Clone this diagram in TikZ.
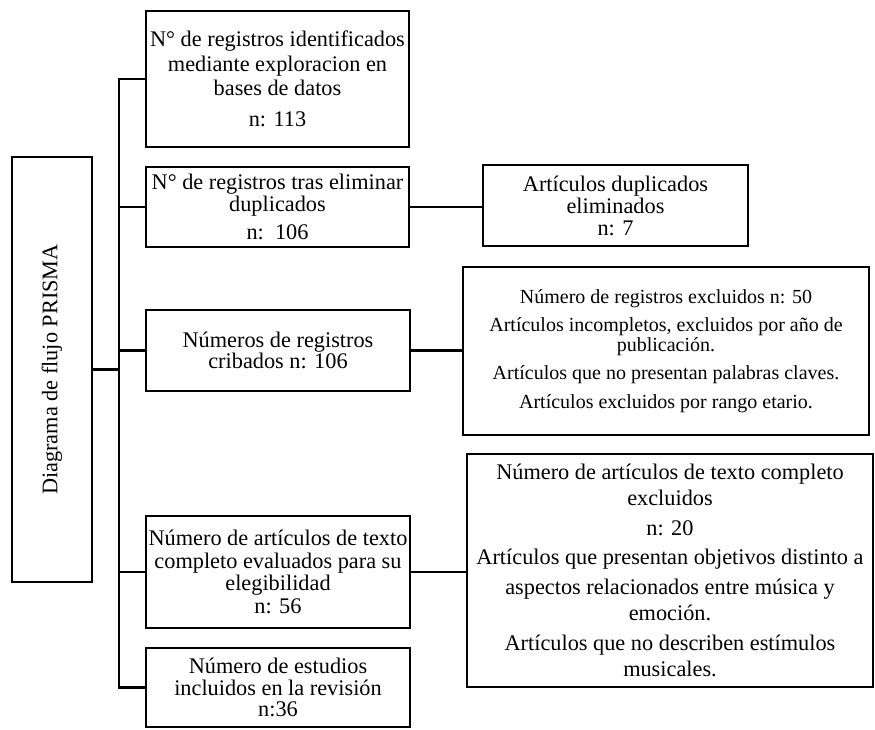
\documentclass[tikz,border=0pt]{standalone}
\usepackage{fontspec}
\usepackage{graphicx}
\setmainfont{Liberation Serif}
\newcommand\fsz[2]{\fontsize{#1}{#2}\selectfont\lineskiplimit=-20pt\lineskip=0pt}
\begin{document}
\begin{tikzpicture}[x=1pt,y=-1pt,
  box/.style={draw, line width=2.6pt, inner sep=0pt, align=center, font=\fsz{22.3}{22.5}},
  link/.style={line width=2.6pt, line join=miter}]
\fill[white] (0,0) rectangle (875,729);
\useasboundingbox (0,0) rectangle (875,729);

\node[box, minimum width=80, minimum height=425] (L) at (52,369.5)
  {\rotatebox{90}{Diagrama de flujo PRISMA}};

\node[box, minimum width=263, minimum height=136, font=\fsz{22.3}{24.5}] (B1) at (277.5,79)
  {N° de registros identificados\\mediante exploracion en\\bases de datos\\[6pt]n: 113};
\node[box, minimum width=263, minimum height=80, font=\fsz{22.3}{21.5}] (B2) at (277.5,207)
  {N° de registros tras eliminar\\duplicados\\[7pt]n:\ \ 106};
\node[box, minimum width=264, minimum height=81, font=\fsz{22.3}{21}] (B3) at (278,350.5)
  {Números de registros\\cribados n: 106};
\node[box, minimum width=264, minimum height=112, font=\fsz{22.3}{22.7}] (B4) at (278,572)
  {Número de artículos de texto\\completo evaluados para su\\elegibilidad\\n: 56};
\node[box, minimum width=264, minimum height=79, font=\fsz{22.3}{21.5}] (B5) at (278,687.5)
  {Número de estudios\\incluidos en la revisión\\n:36};

\node[box, minimum width=265, minimum height=81, font=\fsz{22.3}{22}] (R1) at (615.5,205.5)
  {Artículos duplicados\\eliminados\\n: 7};
\node[box, minimum width=406, minimum height=168, font=\fsz{20}{20}] (R2) at (666,351)
  {Número de registros excluidos n: 50\\[8pt]Artículos incompletos, excluidos por año de\\publicación.\\[8pt]Artículos que no presentan palabras claves.\\[9pt]Artículos excluidos por rango etario.};
\node[box, minimum width=406, minimum height=233, font=\fsz{22.3}{26.5}] (R3) at (670,570.5)
  {Número de artículos de texto completo\\excluidos\\[3pt]n: 20\\[3pt]Artículos que presentan objetivos distinto a\\[3pt]aspectos relacionados entre música y\\emoción.\\[3pt]Artículos que no describen estímulos\\musicales.};

\coordinate (bx) at (119,0);
\draw[link] (B1.west) -- (bx |- B1.west) -- (bx |- B5.west) -- (B5.west);
\foreach \n in {B2,B3,B4} \draw[link] (bx |- \n.west) -- (\n.west);
\draw[link] (L.east) -- (bx |- L.east);
\draw[link] (B2.east) -- (B2.east -| R1.west);
\draw[link] (B3.east) -- (B3.east -| R2.west);
\draw[link] (B4.east) -- (B4.east -| R3.west);
\end{tikzpicture}
\end{document}
